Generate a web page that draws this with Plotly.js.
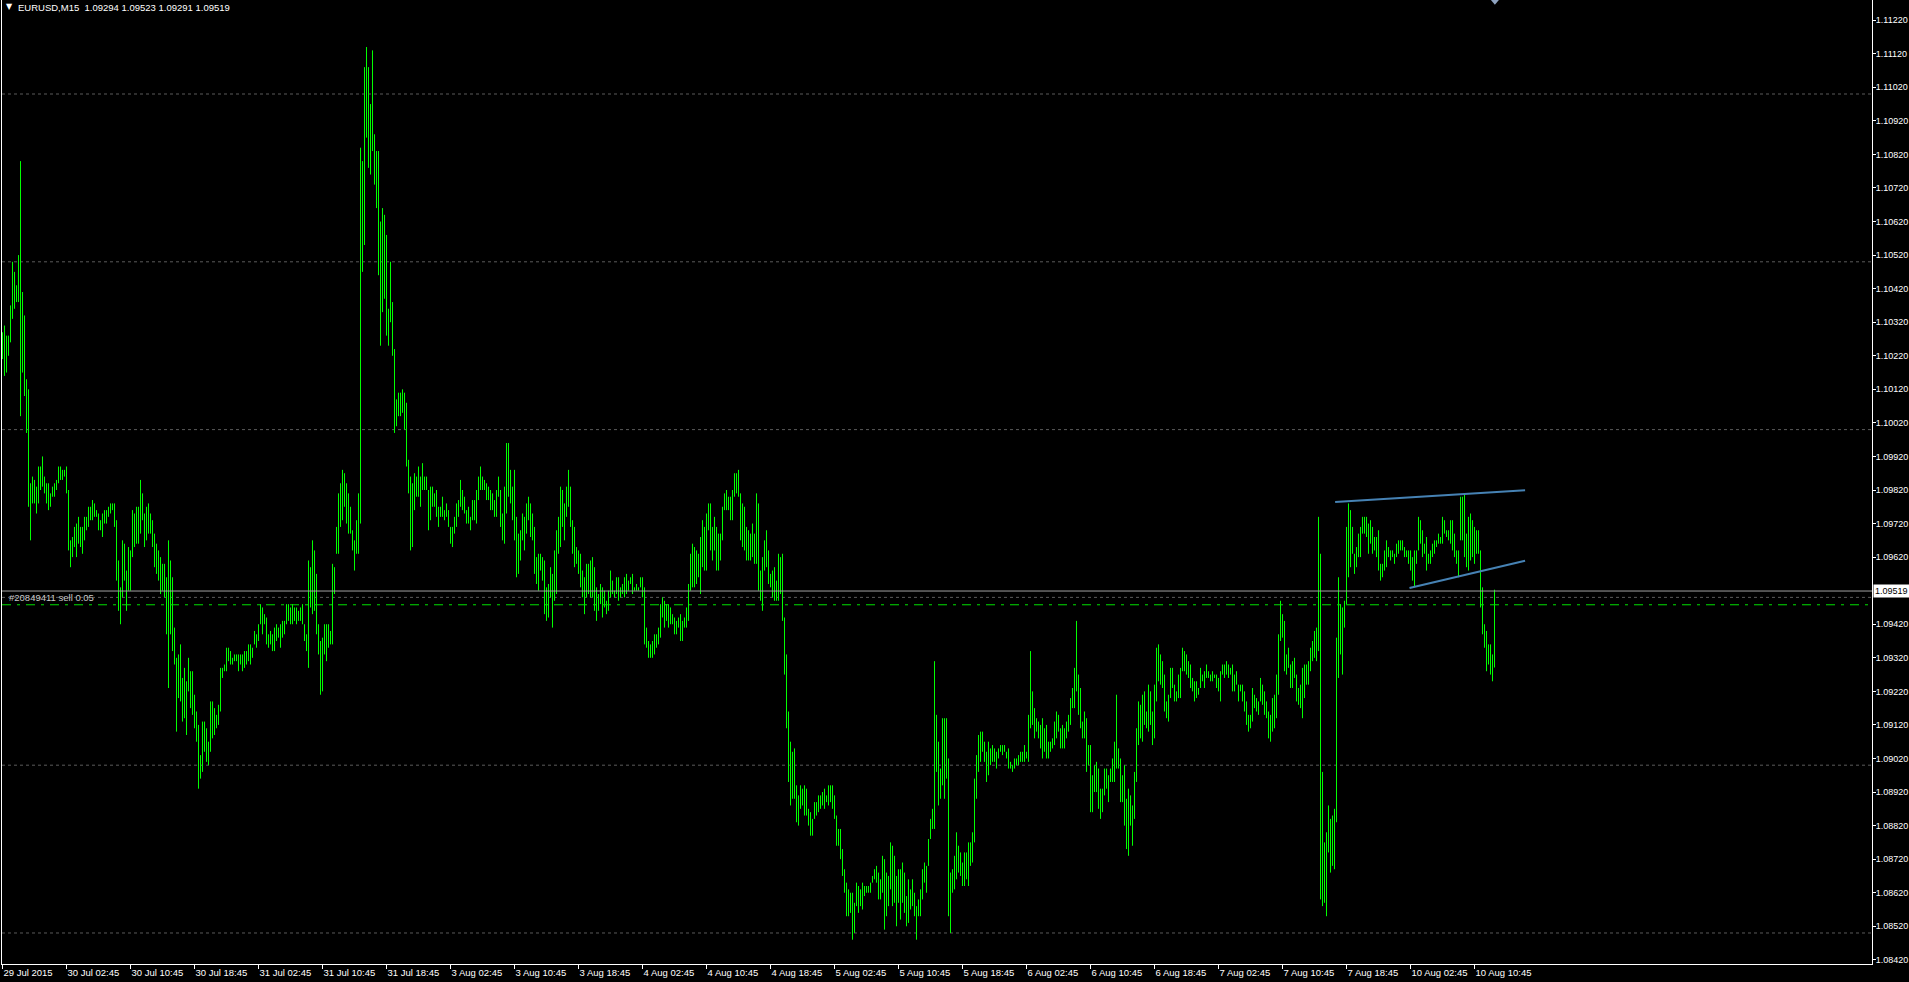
<!DOCTYPE html>
<html><head><meta charset="utf-8">
<script src="https://cdn.plot.ly/plotly-3.0.1.min.js"></script>
<style>html,body{margin:0;padding:0;background:#000;overflow:hidden}#chart{width:1909px;height:982px}</style>
</head><body><div id="chart"></div>
<script>
// ---- data ----
const symbolName = "EURUSD,M15";
const headerOHLC = ["1.09294", "1.09523", "1.09291", "1.09519"];

const barHigh = [
1.1029,1.1031,1.1028,1.1028,1.1037,1.1050,1.1047,1.1043,1.1052,1.1080,
1.1041,1.1034,1.1015,1.1012,1.0984,1.0986,1.0985,1.0983,1.0989,1.0989,
1.0992,1.0986,1.0984,1.0984,1.0981,1.0983,1.0984,1.0985,1.0989,1.0989,
1.0988,1.0988,1.0989,1.0982,1.0967,1.0968,1.0971,1.0972,1.0974,1.0971,
1.0971,1.0974,1.0974,1.0977,1.0977,1.0979,1.0978,1.0976,1.0975,1.0973,
1.0975,1.0976,1.0976,1.0977,1.0978,1.0978,1.0978,1.0973,1.0961,1.0953,
1.0967,1.0966,1.0958,1.0965,1.0964,1.0976,1.0975,1.0977,1.0977,1.0985,
1.0981,1.0975,1.0977,1.0978,1.0975,1.0973,1.0969,1.0966,1.0964,1.0962,
1.0960,1.0960,1.0956,1.0967,1.0961,1.0956,1.0941,1.0932,1.0933,1.0936,
1.0926,1.0929,1.0925,1.0932,1.0928,1.0928,1.0921,1.0916,1.0912,1.0903,
1.0913,1.0913,1.0911,1.0907,1.0919,1.0919,1.0917,1.0915,1.0918,1.0929,
1.0929,1.0930,1.0935,1.0935,1.0934,1.0932,1.0933,1.0933,1.0933,1.0933,
1.0933,1.0934,1.0934,1.0936,1.0936,1.0935,1.0940,1.0939,1.0942,1.0948,
1.0947,1.0945,1.0944,1.0939,1.0940,1.0939,1.0941,1.0942,1.0941,1.0942,
1.0943,1.0943,1.0948,1.0948,1.0947,1.0948,1.0947,1.0947,1.0946,1.0947,
1.0948,1.0942,1.0939,1.0961,1.0959,1.0967,1.0964,1.0957,1.0942,1.0937,
1.0938,1.0942,1.0942,1.0942,1.0940,1.0960,1.0959,1.0971,1.0981,1.0984,
1.0988,1.0987,1.0984,1.0981,1.0977,1.0970,1.0967,1.0973,1.0981,1.1084,
1.1080,1.1108,1.1114,1.1108,1.1097,1.1113,1.1088,1.1083,1.1083,
1.1062,1.1066,1.1064,1.1058,1.1036,1.1050,1.1038,1.1024,1.1009,1.1011,
1.1011,1.1012,1.1011,1.1008,1.0991,1.0986,1.0984,1.0987,1.0986,1.0989,
1.0986,1.0990,1.0986,1.0986,1.0982,1.0983,1.0983,1.0981,1.0982,1.0977,
1.0977,1.0980,1.0976,1.0978,1.0976,1.0971,1.0971,1.0974,1.0978,1.0979,
1.0985,1.0982,1.0980,1.0976,1.0977,1.0974,1.0979,1.0979,1.0982,1.0986,
1.0989,1.0986,1.0985,1.0984,1.0983,1.0982,1.0981,1.0979,1.0982,1.0986,
1.0982,1.0975,1.0983,1.0996,1.0996,1.0988,1.0983,1.0988,1.0974,1.0969,
1.0970,1.0975,1.0974,1.0978,1.0980,1.0978,1.0975,1.0971,1.0962,1.0963,
1.0963,1.0962,1.0961,1.0953,1.0954,1.0959,1.0957,1.0964,1.0970,1.0974,
1.0983,1.0982,1.0978,1.0983,1.0988,1.0983,1.0973,1.0971,1.0965,1.0964,
1.0963,1.0958,1.0956,1.0960,1.0960,1.0961,1.0962,1.0959,1.0953,1.0951,
1.0954,1.0953,1.0952,1.0949,1.0952,1.0958,1.0955,1.0952,1.0956,1.0956,
1.0953,1.0954,1.0956,1.0957,1.0955,1.0956,1.0957,1.0953,1.0954,1.0953,
1.0956,1.0956,1.0953,1.0941,1.0937,1.0936,1.0937,1.0939,1.0939,1.0941,
1.0948,1.0950,1.0949,1.0948,1.0948,1.0947,1.0945,1.0944,1.0943,1.0944,
1.0945,1.0943,1.0944,1.0947,1.0954,1.0963,1.0966,1.0965,1.0964,1.0963,
1.0968,1.0973,1.0971,1.0975,1.0978,1.0978,1.0971,1.0974,1.0971,1.0969,
1.0969,1.0977,1.0981,1.0982,1.0980,1.0980,1.0982,1.0987,1.0987,1.0988,
1.0981,1.0978,1.0977,1.0971,1.0970,
1.0969,1.0972,1.0969,1.0981,1.0978,1.0958,1.0962,1.0967,1.0970,1.0964,
1.0957,1.0958,1.0959,1.0955,1.0963,1.0962,1.0963,1.0944,1.0933,1.0916,
1.0907,1.0904,1.0905,1.0894,1.0891,1.0894,1.0893,1.0894,1.0893,1.0887,
1.0886,1.0884,1.0889,1.0889,1.0891,1.0891,1.0892,1.0893,1.0891,1.0894,
1.0894,1.0894,1.0891,1.0885,1.0881,1.0881,1.0875,1.0869,1.0865,1.0863,
1.0862,1.0862,1.0859,1.0865,1.0864,1.0863,1.0865,1.0864,1.0864,1.0864,
1.0865,1.0867,1.0869,1.0870,1.0868,1.0866,1.0873,1.0872,1.0868,1.0867,
1.0877,1.0876,1.0873,1.0867,1.0869,1.0869,1.0871,1.0868,1.0861,1.0866,
1.0863,1.0866,1.0862,1.0858,1.0860,1.0863,1.0869,1.0871,1.0870,1.0878,
1.0884,1.0887,1.0931,1.0915,1.0907,1.0899,1.0914,1.0914,1.0914,1.0902,
1.0868,1.0869,1.0873,1.0880,1.0876,1.0874,1.0871,1.0874,1.0874,1.0877,
1.0877,1.0880,1.0896,1.0903,1.0909,1.0910,1.0910,1.0907,1.0904,1.0907,
1.0905,1.0906,1.0905,1.0904,1.0905,1.0906,1.0906,1.0906,1.0904,1.0905,
1.0901,1.0900,1.0902,1.0902,1.0903,1.0904,1.0904,1.0906,1.0904,1.0915,
1.0934,1.0922,1.0917,1.0914,1.0913,1.0912,1.0914,1.0911,1.0912,1.0907,
1.0907,1.0908,1.0913,1.0916,1.0915,1.0911,1.0912,1.0911,1.0913,1.0915,
1.0920,1.0923,1.0929,1.0943,1.0927,1.0923,1.0913,1.0916,1.0914,1.0906,
1.0906,1.0897,1.0900,1.0901,1.0899,1.0893,1.0893,1.0899,1.0899,1.0897,
1.0899,1.0902,1.0907,1.0921,1.0905,1.0902,1.0897,1.0900,
1.0890,1.0893,1.0891,1.0888,1.0898,1.0911,1.0919,1.0918,1.0921,1.0922,
1.0916,1.0924,1.0922,1.0916,1.0924,1.0935,1.0936,1.0933,1.0931,1.0927,
1.0919,1.0921,1.0929,1.0929,1.0924,1.0922,1.0927,1.0929,1.0935,1.0934,
1.0933,1.0931,1.0930,1.0926,1.0925,1.0925,1.0923,1.0929,1.0927,1.0928,
1.0930,1.0928,1.0927,1.0928,1.0927,1.0927,1.0926,1.0928,1.0930,1.0930,
1.0931,1.0930,1.0929,1.0930,1.0927,1.0928,1.0924,1.0924,1.0924,1.0922,
1.0919,1.0915,1.0915,1.0923,1.0921,1.0920,1.0919,1.0926,1.0924,1.0922,
1.0919,1.0916,1.0915,1.0920,1.0921,1.0927,1.0939,1.0949,1.0945,1.0943,
1.0933,1.0935,1.0930,1.0931,1.0932,1.0927,1.0923,1.0924,1.0929,1.0930,
1.0930,1.0931,1.0935,1.0937,1.0940,1.0941,1.0974,1.0963,1.0898,1.0877,
1.0880,1.0888,1.0884,1.0885,1.0887,1.0938,1.0956,1.0948,1.0947,1.0949,
1.0971,1.0978,1.0976,1.0971,1.0963,1.0965,1.0969,1.0971,1.0974,1.0974,
1.0974,1.0972,1.0973,1.0971,1.0968,1.0968,1.0970,1.0960,1.0960,1.0964,
1.0967,1.0965,1.0964,1.0964,1.0963,1.0966,1.0967,1.0967,1.0967,1.0965,
1.0964,1.0964,1.0964,1.0962,1.0964,1.0964,1.0974,1.0973,1.0970,1.0966,
1.0968,1.0963,1.0964,1.0966,1.0967,1.0967,1.0969,1.0968,1.0974,1.0973,
1.0970,1.0970,1.0973,1.0973,1.0969,1.0964,1.0964,1.0980,1.0980,1.0981,
1.0969,1.0974,1.0975,1.0973,1.0971,1.0970,1.0970,1.0964,1.0953,1.0942,
1.0940,1.0936,1.0936,1.0933,1.09523
];

const barLow = [
1.1021,1.1016,1.1017,1.1022,1.1026,1.1033,1.1036,1.1038,1.1038,1.1004,
1.1017,1.1010,1.0999,1.0977,1.0967,1.0978,1.0978,1.0975,1.0978,1.0982,
1.0983,1.0981,1.0978,1.0976,1.0977,1.0980,1.0980,1.0982,1.0984,1.0985,
1.0985,1.0986,1.0981,1.0964,1.0959,1.0962,1.0965,1.0962,1.0966,1.0965,
1.0963,1.0967,1.0970,1.0971,1.0973,1.0973,1.0974,1.0974,1.0970,1.0970,
1.0968,1.0972,1.0972,1.0974,1.0975,1.0976,1.0971,1.0955,1.0946,1.0942,
1.0950,1.0955,1.0946,1.0952,1.0952,1.0962,1.0965,1.0966,1.0966,1.0969,
1.0973,1.0965,1.0967,1.0969,1.0969,1.0965,1.0959,1.0957,1.0955,1.0951,
1.0952,1.0950,1.0939,1.0923,1.0939,1.0934,1.0930,1.0910,1.0920,1.0919,
1.0913,1.0914,1.0909,1.0922,1.0917,1.0915,1.0911,1.0907,1.0893,1.0896,
1.0898,1.0904,1.0901,1.0900,1.0904,1.0908,1.0909,1.0911,1.0912,1.0916,
1.0926,1.0928,1.0928,1.0931,1.0930,1.0930,1.0931,1.0931,1.0928,1.0930,
1.0928,1.0929,1.0930,1.0931,1.0930,1.0932,1.0936,1.0935,1.0937,1.0942,
1.0939,1.0942,1.0936,1.0935,1.0936,1.0934,1.0934,1.0937,1.0938,1.0935,
1.0938,1.0939,1.0942,1.0943,1.0942,1.0942,1.0943,1.0942,1.0943,1.0943,
1.0942,1.0937,1.0934,1.0929,1.0947,1.0945,1.0946,1.0939,1.0933,1.0921,
1.0922,1.0933,1.0931,1.0935,1.0936,1.0936,1.0951,1.0963,1.0963,1.0971,
1.0973,1.0977,1.0972,1.0969,1.0969,1.0964,1.0958,1.0963,1.0963,1.0972,
1.1047,1.1055,1.1087,1.1078,1.1076,1.1083,1.1073,1.1066,1.1046,
1.1025,1.1035,1.1039,1.1028,1.1025,1.1032,1.1022,1.0999,1.1001,1.1004,
1.1004,1.1005,1.1000,1.0989,1.0981,1.0964,1.0965,1.0976,1.0980,1.0980,
1.0977,1.0982,1.0982,1.0982,1.0970,1.0973,1.0977,1.0977,1.0974,1.0971,
1.0974,1.0974,1.0973,1.0974,1.0971,1.0966,1.0965,1.0969,1.0971,1.0974,
1.0977,1.0976,1.0975,1.0972,1.0972,1.0970,1.0973,1.0973,1.0972,1.0979,
1.0982,1.0982,1.0982,1.0979,1.0979,1.0976,1.0976,1.0974,1.0974,1.0980,
1.0971,1.0967,1.0966,1.0975,1.0980,1.0978,1.0973,1.0967,1.0956,1.0957,
1.0961,1.0967,1.0964,1.0969,1.0973,1.0968,1.0967,1.0957,1.0954,1.0952,
1.0958,1.0955,1.0945,1.0943,1.0944,1.0950,1.0941,1.0949,1.0951,1.0963,
1.0965,1.0971,1.0967,1.0974,1.0977,1.0971,1.0963,1.0959,1.0960,1.0957,
1.0953,1.0950,1.0945,1.0950,1.0951,1.0950,1.0950,1.0946,1.0943,1.0946,
1.0948,1.0944,1.0947,1.0945,1.0946,1.0950,1.0951,1.0950,1.0951,1.0949,
1.0950,1.0951,1.0950,1.0951,1.0952,1.0954,1.0951,1.0952,1.0952,1.0952,
1.0953,1.0950,1.0936,1.0935,1.0932,1.0932,1.0932,1.0933,1.0935,1.0936,
1.0938,1.0944,1.0941,1.0943,1.0941,1.0942,1.0942,1.0939,1.0939,1.0941,
1.0937,1.0937,1.0941,1.0941,1.0943,1.0952,1.0953,1.0953,1.0954,1.0956,
1.0951,1.0959,1.0958,1.0958,1.0970,1.0964,1.0961,1.0964,1.0958,1.0958,
1.0961,1.0967,1.0976,1.0976,1.0976,1.0973,1.0973,1.0980,1.0981,1.0980,
1.0967,1.0965,1.0964,1.0961,1.0961,
1.0961,1.0962,1.0960,1.0960,1.0952,1.0949,1.0946,1.0958,1.0959,1.0954,
1.0953,1.0950,1.0949,1.0949,1.0949,1.0951,1.0943,1.0927,1.0911,1.0895,
1.0888,1.0890,1.0890,1.0883,1.0882,1.0887,1.0888,1.0885,1.0885,1.0882,
1.0879,1.0879,1.0884,1.0885,1.0886,1.0887,1.0888,1.0887,1.0889,1.0888,
1.0889,1.0887,1.0884,1.0876,1.0876,1.0872,1.0867,1.0862,1.0855,1.0855,
1.0856,1.0848,1.0850,1.0858,1.0856,1.0858,1.0857,1.0861,1.0862,1.0862,
1.0862,1.0865,1.0866,1.0865,1.0860,1.0860,1.0862,1.0851,1.0855,1.0858,
1.0863,1.0858,1.0859,1.0852,1.0859,1.0854,1.0859,1.0856,1.0852,1.0853,
1.0857,1.0858,1.0855,1.0848,1.0855,1.0855,1.0860,1.0865,1.0862,1.0870,
1.0878,1.0881,1.0881,1.0898,1.0888,1.0890,1.0894,1.0890,1.0896,1.0855,
1.0850,1.0862,1.0863,1.0866,1.0868,1.0867,1.0864,1.0864,1.0866,1.0864,
1.0870,1.0871,1.0877,1.0890,1.0898,1.0901,1.0904,1.0901,1.0895,1.0897,
1.0900,1.0901,1.0901,1.0899,1.0902,1.0904,1.0903,1.0904,1.0902,1.0899,
1.0899,1.0898,1.0899,1.0900,1.0900,1.0901,1.0901,1.0901,1.0902,1.0901,
1.0911,1.0912,1.0908,1.0910,1.0908,1.0905,1.0902,1.0904,1.0902,1.0902,
1.0904,1.0905,1.0906,1.0908,1.0910,1.0905,1.0905,1.0905,1.0908,1.0910,
1.0912,1.0917,1.0917,1.0922,1.0915,1.0911,1.0908,1.0908,1.0898,1.0900,
1.0886,1.0886,1.0892,1.0892,1.0887,1.0884,1.0886,1.0891,1.0893,1.0889,
1.0895,1.0895,1.0895,1.0899,1.0899,1.0889,1.0889,1.0882,
1.0875,1.0873,1.0882,1.0876,1.0884,1.0895,1.0906,1.0908,1.0907,1.0912,
1.0911,1.0910,1.0912,1.0906,1.0908,1.0919,1.0925,1.0924,1.0923,1.0916,
1.0914,1.0913,1.0920,1.0923,1.0919,1.0919,1.0920,1.0920,1.0928,1.0928,
1.0927,1.0926,1.0923,1.0922,1.0919,1.0920,1.0921,1.0923,1.0925,1.0923,
1.0926,1.0926,1.0925,1.0925,1.0926,1.0923,1.0922,1.0919,1.0927,1.0926,
1.0927,1.0926,1.0927,1.0922,1.0922,1.0924,1.0919,1.0922,1.0919,1.0916,
1.0912,1.0910,1.0911,1.0913,1.0917,1.0916,1.0915,1.0919,1.0918,1.0915,
1.0914,1.0908,1.0907,1.0910,1.0911,1.0914,1.0921,1.0937,1.0938,1.0928,
1.0927,1.0929,1.0923,1.0923,1.0926,1.0919,1.0918,1.0917,1.0914,1.0920,
1.0924,1.0924,1.0928,1.0931,1.0932,1.0931,1.0934,1.0860,1.0858,1.0859,
1.0855,1.0874,1.0868,1.0870,1.0869,1.0883,1.0926,1.0933,1.0927,1.0941,
1.0948,1.0956,1.0959,1.0963,1.0957,1.0959,1.0962,1.0962,1.0969,1.0969,
1.0968,1.0963,1.0966,1.0963,1.0964,1.0962,1.0958,1.0955,1.0956,1.0958,
1.0959,1.0962,1.0961,1.0962,1.0960,1.0962,1.0963,1.0964,1.0964,1.0962,
1.0962,1.0960,1.0958,1.0955,1.0953,1.0960,1.0964,1.0966,1.0962,1.0963,
1.0958,1.0960,1.0960,1.0962,1.0963,1.0965,1.0966,1.0966,1.0966,1.0969,
1.0968,1.0967,1.0966,1.0964,1.0962,1.0960,1.0956,1.0967,1.0967,1.0962,
1.0959,1.0958,1.0961,1.0962,1.0960,1.0963,1.0963,1.0947,1.0939,1.0935,
1.0928,1.0930,1.0927,1.0925,1.09291
];

const timeTickLabels = ["29 Jul 2015","30 Jul 02:45","30 Jul 10:45","30 Jul 18:45","31 Jul 02:45",
  "31 Jul 10:45","31 Jul 18:45","3 Aug 02:45","3 Aug 10:45","3 Aug 18:45","4 Aug 02:45",
  "4 Aug 10:45","4 Aug 18:45","5 Aug 02:45","5 Aug 10:45","5 Aug 18:45","6 Aug 02:45",
  "6 Aug 10:45","6 Aug 18:45","7 Aug 02:45","7 Aug 10:45","7 Aug 18:45","10 Aug 02:45","10 Aug 10:45"];
const barsPerTimeTick = 32;

const priceTickLabels = ["1.11220","1.11120","1.11020","1.10920","1.10820","1.10720","1.10620",
  "1.10520","1.10420","1.10320","1.10220","1.10120","1.10020","1.09920","1.09820","1.09720",
  "1.09620","1.09420","1.09320","1.09220","1.09120","1.09020","1.08920","1.08820","1.08720",
  "1.08620","1.08520","1.08420"];
const gridLevels = [1.1100, 1.1050, 1.1000, 1.0950, 1.0900, 1.0850];

const bidPrice = 1.09519;
const orderPrice = 1.09478;
const orderLabel = "#20849411 sell 0.05";
const upperTrendX = [666.3, 761.3], upperTrendY = [1.09784, 1.09819];
const lowerTrendX = [703.5, 761.3], lowerTrendY = [1.09528, 1.09609];

// ---- build traces ----
const bx = [], by = [];
for (let i = 0; i < barHigh.length; i++) {
  bx.push(i, i, null);
  by.push(barLow[i], barHigh[i], null);
}
const FONT = "Liberation Sans, Arial, sans-serif";
const traces = [
  {type: "scatter", mode: "lines", x: bx, y: by, line: {color: "#00ff00", width: 1}, hoverinfo: "skip"},
  {type: "scatter", mode: "lines", x: upperTrendX, y: upperTrendY, line: {color: "#4682b4", width: 2}, hoverinfo: "skip"},
  {type: "scatter", mode: "lines", x: lowerTrendX, y: lowerTrendY, line: {color: "#4682b4", width: 2}, hoverinfo: "skip"}
];

const shapes = gridLevels.map(g => ({
  type: "line", xref: "paper", x0: 0, x1: 1, yref: "y", y0: g, y1: g, layer: "below",
  line: {color: "#5a5a5a", width: 1, dash: "3px,3px"}
}));
shapes.push({type: "line", xref: "paper", x0: 0, x1: 1, yref: "y", y0: bidPrice, y1: bidPrice,
  line: {color: "#a0a0a0", width: 1}});
shapes.push({type: "line", xref: "paper", x0: 0, x1: 1, yref: "y", y0: orderPrice, y1: orderPrice,
  line: {color: "#00e000", width: 1, dash: "9px,6px,3px,6px"}});
shapes.push({type: "path", xref: "x", yref: "paper",
  path: "M 744.2 1 L 748.2 1 L 746.2 0.995 Z", fillcolor: "#8fa3c0", line: {width: 0}});

const annotations = [
  {xref: "paper", yref: "paper", x: 0, y: 1, xanchor: "left", yanchor: "top", xshift: 2, yshift: 0,
   text: "▼", showarrow: false, font: {family: "DejaVu Sans", size: 8, color: "#ffffff"}},
  {xref: "paper", yref: "paper", x: 0, y: 1, xanchor: "left", yanchor: "top", xshift: 14, yshift: 0,
   text: symbolName + "  " + headerOHLC.join(" "), showarrow: false,
   font: {family: FONT, size: 9.5, color: "#ffffff"}},
  {xref: "paper", yref: "y", x: 0, y: 1.09501, xanchor: "left", yanchor: "middle", xshift: 5,
   text: orderLabel, showarrow: false, font: {family: FONT, size: 9.5, color: "#c8c8c8"}},
  {xref: "paper", yref: "y", x: 1, y: bidPrice, xanchor: "left", yanchor: "middle", xshift: 1,
   text: bidPrice.toFixed(5), showarrow: false, bgcolor: "#ffffff", borderpad: 1,
   font: {family: FONT, size: 9, color: "#000000"}}
];

const layout = {
  width: 1909, height: 982,
  margin: {l: 2, r: 37, t: 0, b: 18, pad: 0, autoexpand: false},
  paper_bgcolor: "#000000", plot_bgcolor: "#000000",
  showlegend: false,
  font: {family: FONT, size: 9.5, color: "#ffffff"},
  xaxis: {
    range: [-0.25, 934.75], fixedrange: true, showgrid: false, zeroline: false,
    showline: true, linecolor: "#ffffff", linewidth: 1,
    ticks: "outside", ticklen: 4, tickwidth: 1, tickcolor: "#ffffff",
    tickvals: timeTickLabels.map((_, k) => k * barsPerTimeTick), ticktext: timeTickLabels,
    tickangle: 0, automargin: false,
    ticklabelposition: "outside right",
    tickfont: {family: FONT, size: 9.5, color: "#ffffff"}
  },
  yaxis: {
    side: "right", range: [1.084076, 1.112801], fixedrange: true, showgrid: false, zeroline: false,
    showline: true, linecolor: "#ffffff", linewidth: 1, mirror: true,
    ticks: "outside", ticklen: 3, tickwidth: 1, tickcolor: "#ffffff", automargin: false,
    ticklabelstandoff: -2,
    tickvals: priceTickLabels.map(parseFloat), ticktext: priceTickLabels,
    tickfont: {family: FONT, size: 9, color: "#ffffff"}
  },
  shapes: shapes,
  annotations: annotations
};

Plotly.newPlot("chart", traces, layout, {staticPlot: true, displayModeBar: false});
</script>
</body></html>
